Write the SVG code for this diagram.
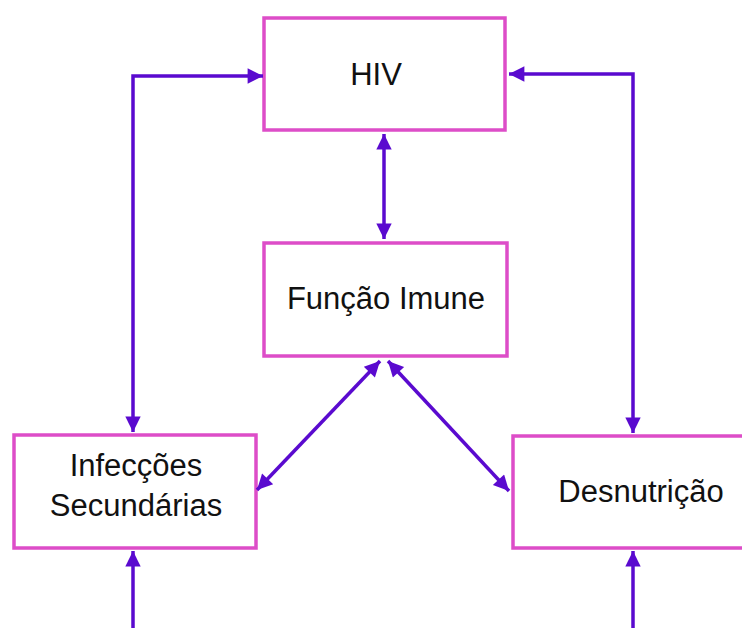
<svg xmlns="http://www.w3.org/2000/svg" width="742" height="628" viewBox="0 0 742 628">
<style>
.box{fill:#fff;stroke:#DD4DC8;stroke-width:3.5}
.lbl{font-family:"Liberation Sans",Arial,sans-serif;font-size:31px;fill:#111;text-anchor:middle}
.con{fill:none;stroke:#5A0ACF;stroke-width:3.5}
</style>
<defs>
<marker id="ah" viewBox="0 0 10 10" refX="10" refY="5" markerWidth="5" markerHeight="4.4" orient="auto-start-reverse" markerUnits="strokeWidth">
<path d="M0,0 L10,5 L0,10 z" fill="#5A0ACF"/>
</marker>
</defs>
<rect width="742" height="628" fill="#fff"/>
<g id="hiv"><rect class="box" x="264" y="18" width="241" height="112"/><text class="lbl" x="376" y="85">HIV</text></g>
<g id="funcao"><rect class="box" x="264" y="243" width="243" height="113"/><text class="lbl" x="386" y="309">Função Imune</text></g>
<g id="infeccoes"><rect class="box" x="14" y="435" width="242" height="113"/><text class="lbl" x="136" y="476">Infecções</text><text class="lbl" x="136" y="516">Secundárias</text></g>
<g id="desnutricao"><rect class="box" x="513" y="436" width="240" height="112"/><text class="lbl" x="641" y="502">Desnutrição</text></g>
<g id="connectors">
<path class="con" d="M133,432 L133,76 L263,76" marker-start="url(#ah)" marker-end="url(#ah)"/>
<path class="con" d="M633,433 L633,74 L509,74" marker-start="url(#ah)" marker-end="url(#ah)"/>
<path class="con" d="M384,134 L384,239" marker-start="url(#ah)" marker-end="url(#ah)"/>
<path class="con" d="M380,361 L257,490" marker-start="url(#ah)" marker-end="url(#ah)"/>
<path class="con" d="M388,361 L509,491" marker-start="url(#ah)" marker-end="url(#ah)"/>
<path class="con" d="M133,630 L133,551" marker-end="url(#ah)"/>
<path class="con" d="M633,630 L633,551" marker-end="url(#ah)"/>
</g>
</svg>
